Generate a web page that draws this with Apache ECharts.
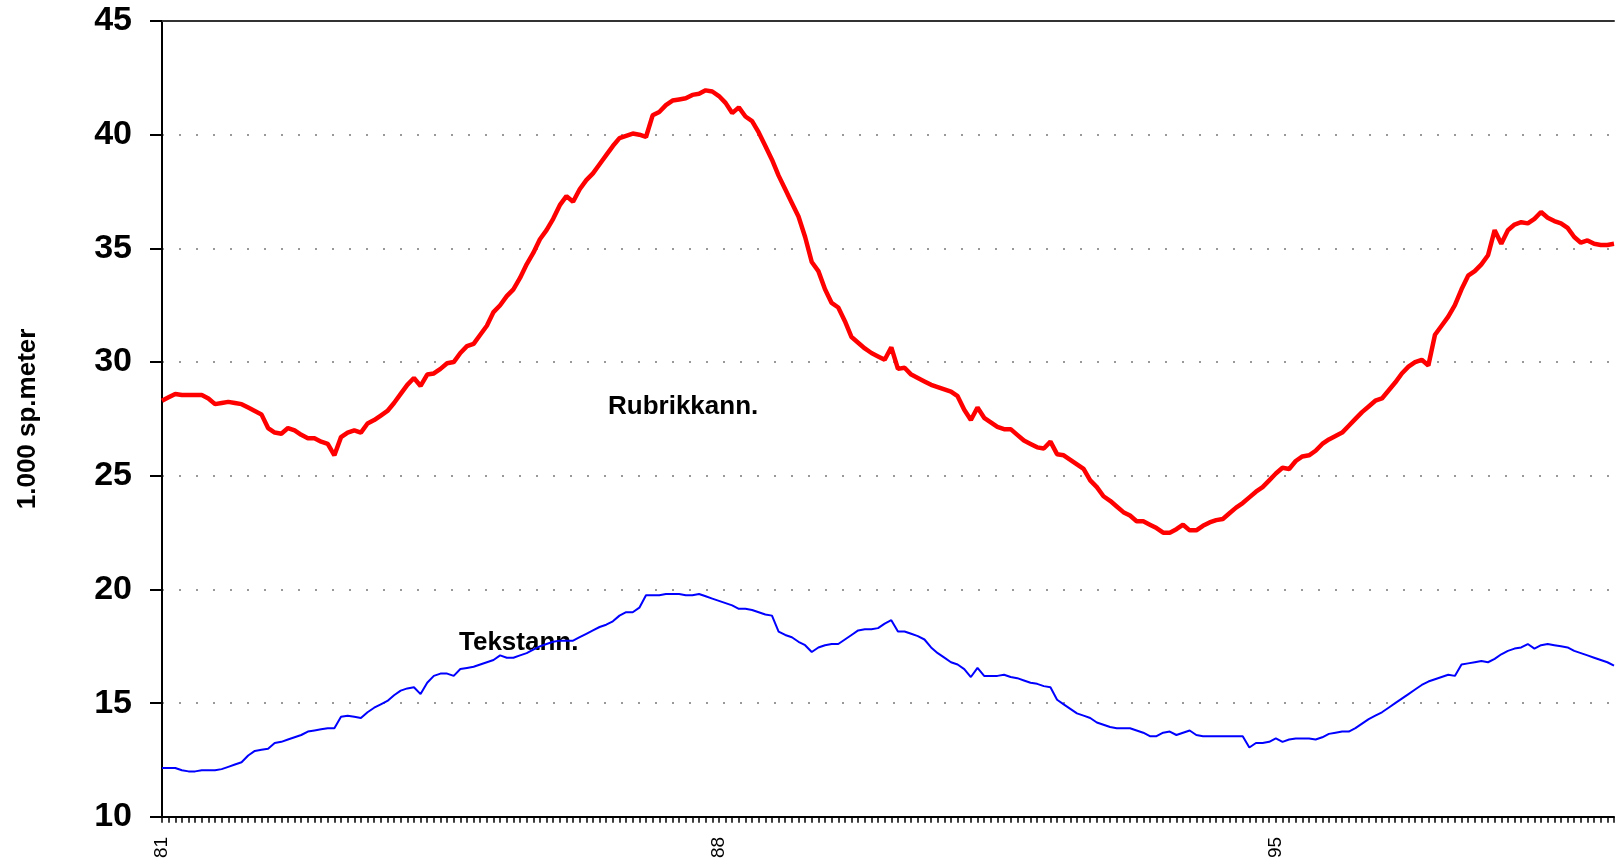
<!DOCTYPE html>
<html>
<head>
<meta charset="utf-8">
<script src="https://cdn.jsdelivr.net/npm/echarts@6/dist/echarts.min.js"></script>
<style>
  html, body { margin: 0; padding: 0; background: #fff; }
  #mainChart { width: 1617px; height: 861px; }
</style>
</head>
<body>
<div id="mainChart"></div>
<script>
// månedlige tall fra jan 1981, 1.000 spaltemeter
var startYear = 81;
var tickYears = ['81', '88', '95'];

var rubrikkann = [
  28.3, 28.45, 28.6, 28.55, 28.55, 28.55, 28.55, 28.4, 28.15, 28.2, 28.25, 28.2,
  28.15, 28.0, 27.85, 27.7, 27.1, 26.9, 26.85, 27.1, 27.0, 26.8, 26.65, 26.65,
  26.5, 26.4, 25.9, 26.7, 26.9, 27.0, 26.9, 27.3, 27.45, 27.65, 27.85, 28.2,
  28.6, 29.0, 29.3, 28.95, 29.45, 29.5, 29.7, 29.95, 30.0, 30.4, 30.7, 30.8,
  31.2, 31.6, 32.2, 32.5, 32.9, 33.2, 33.7, 34.3, 34.8, 35.4, 35.8, 36.3,
  36.9, 37.3, 37.05, 37.6, 38.0, 38.3, 38.7, 39.1, 39.5, 39.85, 39.95, 40.05,
  40.0, 39.9, 40.85, 41.0, 41.3, 41.5, 41.55, 41.6, 41.75, 41.8, 41.95, 41.9,
  41.7, 41.4, 40.95, 41.2, 40.8, 40.6, 40.1, 39.5, 38.9, 38.2, 37.6, 37.0,
  36.4, 35.5, 34.4, 34.0, 33.2, 32.6, 32.4, 31.8, 31.1, 30.85, 30.6, 30.4,
  30.25, 30.1, 30.65, 29.7, 29.75, 29.45, 29.3, 29.15, 29.0, 28.9, 28.8, 28.7,
  28.5, 27.9, 27.45, 28.0, 27.55, 27.35, 27.15, 27.05, 27.05, 26.8, 26.55, 26.4,
  26.25, 26.2, 26.5, 25.95, 25.9, 25.7, 25.5, 25.3, 24.8, 24.5, 24.1, 23.9,
  23.65, 23.4, 23.25, 23.0, 23.0, 22.85, 22.7, 22.5, 22.5, 22.65, 22.85, 22.6,
  22.6, 22.8, 22.95, 23.05, 23.1, 23.35, 23.6, 23.8, 24.05, 24.3, 24.5, 24.8,
  25.1, 25.35, 25.3, 25.65, 25.85, 25.9, 26.1, 26.4, 26.6, 26.75, 26.9, 27.2,
  27.5, 27.8, 28.05, 28.3, 28.4, 28.75, 29.1, 29.5, 29.8, 30.0, 30.1, 29.85,
  31.2, 31.6, 32.0, 32.5, 33.2, 33.8, 34.0, 34.3, 34.7, 35.8, 35.2, 35.8,
  36.05, 36.15, 36.1, 36.3, 36.6, 36.35, 36.2, 36.1, 35.9, 35.5, 35.25, 35.35,
  35.2, 35.15, 35.15, 35.2
];

var tekstann = [
  12.15, 12.15, 12.15, 12.05, 12.0, 12.0, 12.05, 12.05, 12.05, 12.1, 12.2, 12.3,
  12.4, 12.7, 12.9, 12.95, 13.0, 13.25, 13.3, 13.4, 13.5, 13.6, 13.75, 13.8,
  13.85, 13.9, 13.9, 14.4, 14.45, 14.4, 14.35, 14.6, 14.8, 14.95, 15.1, 15.35,
  15.55, 15.65, 15.7, 15.4, 15.9, 16.2, 16.3, 16.3, 16.2, 16.5, 16.55, 16.6,
  16.7, 16.8, 16.9, 17.1, 17.0, 17.0, 17.1, 17.2, 17.35, 17.5, 17.6, 17.7,
  17.75, 17.75, 17.75, 17.9, 18.05, 18.2, 18.35, 18.45, 18.6, 18.85, 19.0, 19.0,
  19.2, 19.75, 19.75, 19.75, 19.8, 19.8, 19.8, 19.75, 19.75, 19.8, 19.7, 19.6,
  19.5, 19.4, 19.3, 19.15, 19.15, 19.1, 19.0, 18.9, 18.85, 18.15, 18.0, 17.9,
  17.7, 17.55, 17.25, 17.45, 17.55, 17.6, 17.6, 17.8, 18.0, 18.2, 18.25, 18.25,
  18.3, 18.5, 18.65, 18.15, 18.15, 18.05, 17.95, 17.8, 17.45, 17.2, 17.0, 16.8,
  16.7, 16.5, 16.15, 16.55, 16.2, 16.2, 16.2, 16.25, 16.15, 16.1, 16.0, 15.9,
  15.85, 15.75, 15.7, 15.15, 14.95, 14.75, 14.55, 14.45, 14.35, 14.15, 14.05, 13.95,
  13.9, 13.9, 13.9, 13.8, 13.7, 13.55, 13.55, 13.7, 13.75, 13.6, 13.7, 13.8,
  13.6, 13.55, 13.55, 13.55, 13.55, 13.55, 13.55, 13.55, 13.05, 13.25, 13.25, 13.3,
  13.45, 13.3, 13.4, 13.45, 13.45, 13.45, 13.4, 13.5, 13.65, 13.7, 13.75, 13.75,
  13.9, 14.1, 14.3, 14.45, 14.6, 14.8, 15.0, 15.2, 15.4, 15.6, 15.8, 15.95,
  16.05, 16.15, 16.25, 16.2, 16.7, 16.75, 16.8, 16.85, 16.8, 16.95, 17.15, 17.3,
  17.4, 17.45, 17.6, 17.4, 17.55, 17.6, 17.55, 17.5, 17.45, 17.3, 17.2, 17.1,
  17.0, 16.9, 16.8, 16.65
];

// kategorier: én pr. måned
var categories = [];
for (var i = 0; i < rubrikkann.length; i++) {
    var yy = startYear + Math.floor(i / 12);
    var mm = (i % 12) + 1;
    categories.push(yy + '-' + (mm < 10 ? '0' + mm : mm));
}

var font = 'Liberation Sans, Arial, sans-serif';

var chartDom = document.getElementById('mainChart');
var myChart = echarts.init(chartDom);

var option = {
    animation: false,
    grid: { left: 162, right: 3, top: 21, bottom: 44 },
    xAxis: [{
        type: 'category',
        data: categories,
        boundaryGap: false,
        axisLine: { lineStyle: { color: '#000', width: 2 } },
        axisTick: { interval: 0, length: 6, lineStyle: { color: '#000', width: 1.5 } },
        axisLabel: {
            interval: function (idx) { return tickYears.indexOf(categories[idx].slice(0, 2)) >= 0 && categories[idx].slice(3) === '01'; },
            formatter: function (v) { return v.slice(0, 2); },
            rotate: 90,
            margin: 20,
            color: '#000',
            fontSize: 19,
            fontFamily: font
        },
        splitLine: { show: false }
    }, {
        type: 'category',
        data: categories,
        position: 'top',
        boundaryGap: false,
        axisLine: { lineStyle: { color: '#333', width: 2 } },
        axisTick: { show: false },
        axisLabel: { show: false }
    }],
    yAxis: {
        type: 'value',
        min: 10,
        max: 45,
        interval: 5,
        name: '1.000 sp.meter',
        nameLocation: 'middle',
        nameGap: 121,
        nameTextStyle: { fontSize: 26, fontWeight: 'bold', color: '#000', fontFamily: font },
        axisLine: { show: true, lineStyle: { color: '#000', width: 2 } },
        axisTick: { show: true, length: 12, lineStyle: { color: '#000', width: 2 } },
        axisLabel: { fontSize: 34, fontWeight: 'bold', color: '#000', margin: 30, fontFamily: font },
        splitLine: { lineStyle: { color: '#999', width: 2, type: [2, 15] } }
    },
    series: [{
        name: 'Rubrikkann.',
        type: 'line',
        data: rubrikkann,
        showSymbol: false,
        lineStyle: { color: '#ff0000', width: 4.5 },
        z: 3
    }, {
        name: 'Tekstann.',
        type: 'line',
        data: tekstann,
        showSymbol: false,
        lineStyle: { color: '#0000ff', width: 2 },
        z: 4
    }],
    graphic: [{
        type: 'text', left: 608, top: 394,
        style: { text: 'Rubrikkann.', font: 'bold 26px ' + font, fill: '#000' }
    }, {
        type: 'text', left: 459, top: 630,
        style: { text: 'Tekstann.', font: 'bold 26px ' + font, fill: '#000' }
    }]
};

myChart.setOption(option);
</script>
</body>
</html>
